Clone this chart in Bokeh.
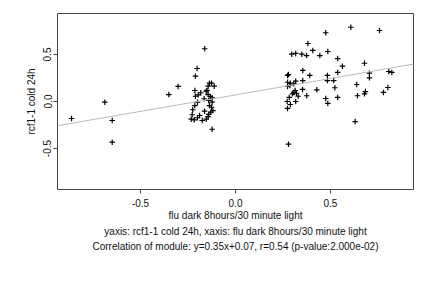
from bokeh.plotting import figure
from bokeh.models import ColumnDataSource, Slope, FixedTicker, PrintfTickFormatter, Title, Range1d
from bokeh.embed import file_html
from bokeh.resources import INLINE

# Data (x: flu dark 8hours/30 minute light, y: rcf1-1 cold 24h)
x_vals = [
    -0.863, -0.688, -0.649, -0.649, -0.351, -0.302, -0.211, -0.202, -0.162,
    -0.137, -0.126, -0.144, -0.112, -0.183, -0.196, -0.211, -0.154, -0.144, -0.132,
    -0.123, -0.165, -0.200, -0.141, -0.123, -0.214, -0.137, -0.126, -0.119, -0.225,
    -0.163, -0.130, -0.228, -0.189, -0.141, -0.233, -0.217, -0.200, -0.175, -0.154,
    -0.144, -0.123, -0.214, -0.150,
    0.607, 0.758, 0.475, 0.381, 0.296, 0.317, 0.349, 0.374, 0.407, 0.444, 0.486,
    0.538, 0.563, 0.679, 0.354, 0.279, 0.274, 0.391, 0.484, 0.538, 0.705, 0.705,
    0.807, 0.823, 0.274, 0.289, 0.317, 0.307, 0.354, 0.484, 0.517, 0.274, 0.286,
    0.638, 0.523, 0.353, 0.428, 0.802, 0.314, 0.307, 0.321, 0.300, 0.684, 0.679,
    0.779, 0.330, 0.375, 0.283, 0.642, 0.538, 0.475, 0.272, 0.317, 0.289, 0.486,
    0.274, 0.630, 0.279,
]
y_vals = [
    -0.181, -0.007, -0.202, -0.433, 0.074, 0.160, 0.269, 0.351, 0.561,
    0.195, 0.195, 0.163, 0.163, 0.093, 0.071, 0.056, 0.110, 0.074, 0.053,
    0.039, 0.029, -0.007, 0.011, -0.007, -0.043, -0.043, -0.061, -0.096, -0.088,
    -0.103, -0.114, -0.141, -0.149, -0.138, -0.188, -0.195, -0.173, -0.202, -0.188,
    -0.160, -0.295, 0.117, 0.118,
    0.790, 0.755, 0.731, 0.617, 0.503, 0.511, 0.503, 0.489, 0.543, 0.489, 0.532,
    0.457, 0.376, 0.407, 0.330, 0.287, 0.277, 0.277, 0.277, 0.309, 0.301, 0.252,
    0.319, 0.309, 0.205, 0.195, 0.216, 0.188, 0.223, 0.223, 0.223, 0.160, 0.170,
    0.181, 0.146, 0.128, 0.124, 0.149, 0.117, 0.096, 0.088, 0.082, 0.106, 0.082,
    0.096, 0.056, 0.061, 0.043, 0.061, 0.043, 0.032, 0.000, 0.000, -0.032, -0.021,
    -0.074, -0.213, -0.454,
]
fit_slope = 0.35
fit_intercept = 0.07
x_ticks = [-0.5, 0.0, 0.5]
y_ticks = [-0.5, 0.0, 0.5]
x_label = "flu dark 8hours/30 minute light"
y_label = "rcf1-1 cold 24h"
caption1 = "yaxis: rcf1-1 cold 24h, xaxis: flu dark 8hours/30 minute light"
caption2 = "Correlation of module: y=0.35x+0.07, r=0.54 (p-value:2.000e-02)"

FONT = "Liberation Sans"
FS = "10px"
TXT = "#111111"

p = figure(width=432, height=288, output_backend="svg", toolbar_location=None,
           x_range=Range1d(-0.937, 0.937), y_range=Range1d(-0.936, 0.936),
           min_border_left=57, min_border_right=19, min_border_top=13, min_border_bottom=99)
p.background_fill_color = "white"
p.border_fill_color = "white"
p.outline_line_color = "#444444"
p.outline_line_width = 1
p.xgrid.visible = False
p.ygrid.visible = False

src = ColumnDataSource(dict(x=x_vals, y=y_vals))
p.scatter("x", "y", source=src, marker="cross", size=5.5, line_color="black", line_width=1.2)

p.add_layout(Slope(gradient=fit_slope, y_intercept=fit_intercept, line_color="#bbbbbb", line_width=1))

for ax, ticks in ((p.xaxis[0], x_ticks), (p.yaxis[0], y_ticks)):
    ax.ticker = FixedTicker(ticks=ticks)
    ax.formatter = PrintfTickFormatter(format="%.1f")
    ax.axis_line_color = None
    ax.major_tick_in = 0
    ax.major_tick_out = 4
    ax.major_tick_line_color = "#444444"
    ax.minor_tick_line_color = None
    ax.major_label_text_font = FONT
    ax.major_label_text_font_size = FS
    ax.major_label_text_color = TXT
    ax.axis_label_text_font = FONT
    ax.axis_label_text_font_size = FS
    ax.axis_label_text_font_style = "normal"
    ax.axis_label_text_color = TXT

p.xaxis.axis_label = x_label
p.yaxis.axis_label = y_label
p.xaxis.major_label_standoff = 5
p.xaxis.axis_label_standoff = 0
p.yaxis.major_label_orientation = "vertical"
p.yaxis.major_label_standoff = 2
p.yaxis.axis_label_standoff = 4

for txt, so in ((caption1, 0), (caption2, 4)):
    t = Title(text=txt, align="center", text_font=FONT, text_font_size=FS,
              text_font_style="normal", text_color=TXT, standoff=so, offset=0)
    p.add_layout(t, "below")

open("out.html", "w").write(file_html(p, INLINE))
